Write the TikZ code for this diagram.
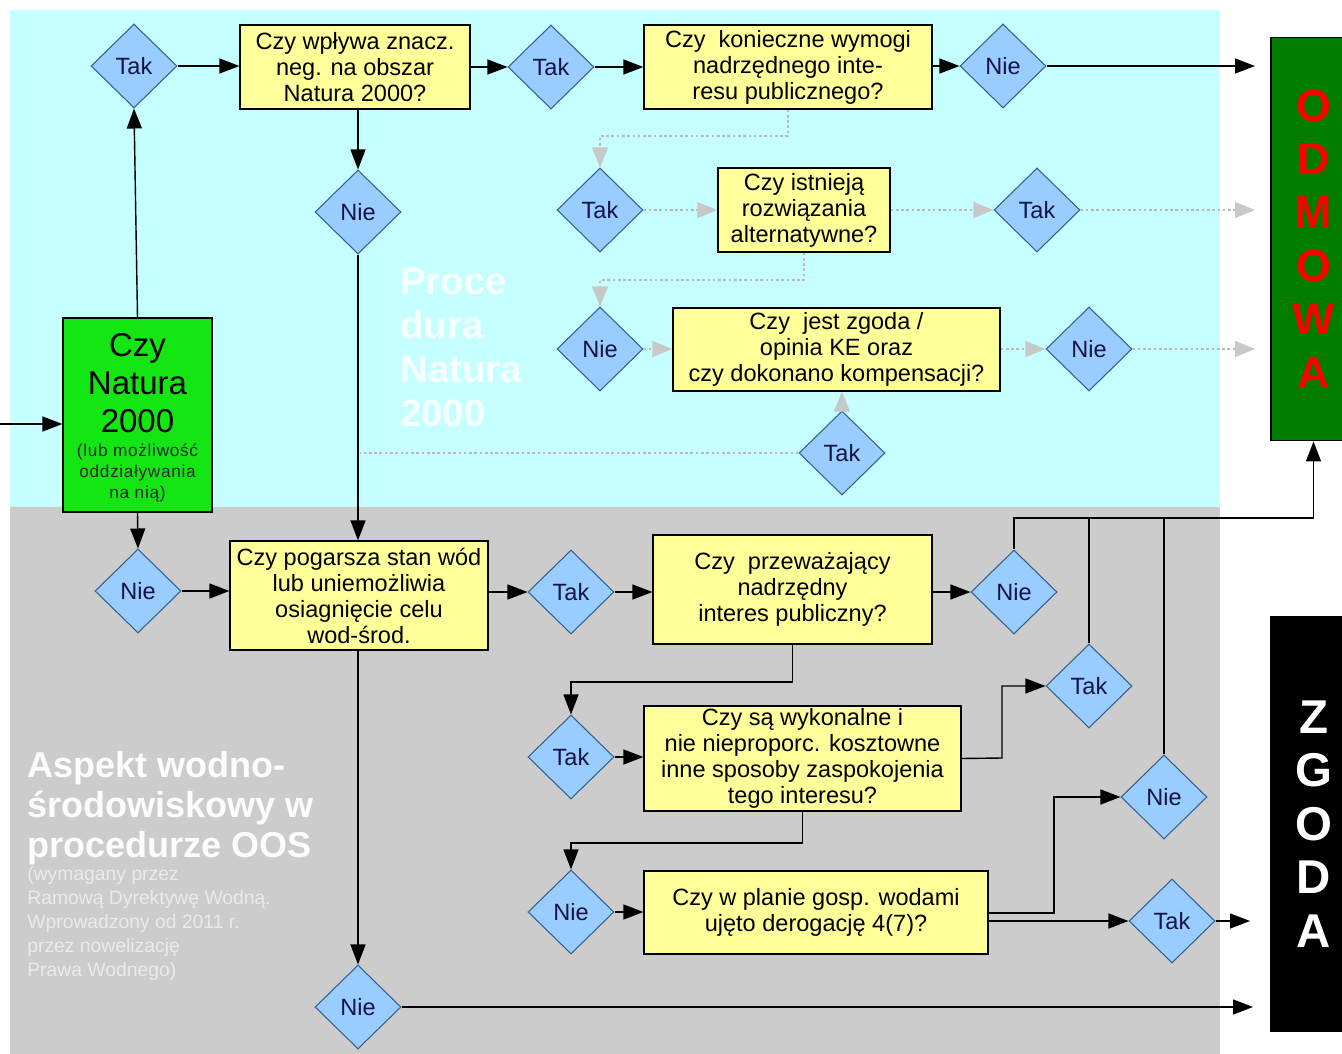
\documentclass[tikz,border=0pt]{standalone}
\usepackage{fontspec}
\setmainfont{Liberation Sans}
\usetikzlibrary{shapes.geometric,arrows.meta}
\definecolor{cyanbg}{RGB}{198,255,255}
\definecolor{graybg}{RGB}{204,204,204}
\definecolor{boxyel}{RGB}{255,255,153}
\definecolor{diafill}{RGB}{153,204,255}
\definecolor{diaedge}{RGB}{55,95,140}
\definecolor{diatext}{RGB}{20,20,70}
\definecolor{grn}{RGB}{20,230,20}
\definecolor{dgrn}{RGB}{0,125,0}
\definecolor{dashgray}{RGB}{185,185,185}
\definecolor{headgray}{RGB}{200,200,200}
\begin{document}
\begin{tikzpicture}[x=0.02cm,y=-0.02cm,
 dia/.style={diamond, draw=diaedge, fill=diafill, line width=0.6pt, minimum width=1.72cm, minimum height=1.68cm, inner sep=0pt, text=diatext, font=\fontsize{13.4}{15}\selectfont},
 qbox/.style={rectangle, draw=black, fill=boxyel, line width=0.7pt, align=center, inner sep=0pt, font=\fontsize{13.4}{14.8}\selectfont},
 arr/.style={line width=0.8pt, -{Triangle[length=0.4cm,width=0.3cm]}},
 ln/.style={line width=0.8pt},
 gln/.style={draw=dashgray, line width=0.6pt, dash pattern=on 1.5pt off 1.5pt},
 garr/.style={gln, -{Triangle[length=0.4cm,width=0.32cm,color=headgray,fill=headgray]}},
 bar/.style={rectangle, draw=black, line width=0.6pt, minimum width=1.7cm, inner sep=0pt, align=center, font=\bfseries\fontsize{25.5}{30.4}\selectfont}
]
\useasboundingbox (0,0) rectangle (1342,1054);
\clip (0,0) rectangle (1342,1054);
\fill[white] (0,0) rectangle (1342,1054);
% backgrounds
\fill[cyanbg] (10,10) rectangle (1220,507);
\fill[graybg] (10,507) rectangle (1220,1054);

% section titles
\node[anchor=north west, align=left, inner sep=0pt, text=white, text opacity=0.85,
  font=\bfseries\fontsize{21.8}{25}\selectfont] (t1) at (400,268) {Proce\\dura\\Natura\\2000};
\node[anchor=north west, align=left, inner sep=0pt, text=white, text opacity=0.95,
  font=\bfseries\fontsize{20.5}{22.8}\selectfont] (t2) at (27,751) {Aspekt wodno-\\środowiskowy w\\procedurze OOS};
\node[anchor=north west, align=left, inner sep=0pt, text=white, text opacity=0.6,
  font=\fontsize{11}{13.7}\selectfont] (t3) at (27,866) {(wymagany przez\\Ramową Dyrektywę Wodną.\\Wprowadzony od 2011 r.\\przez nowelizację\\Prawa Wodnego)};

% result bars
\node[bar, fill=dgrn, text=red, minimum height=8.08cm] (od) at (1313.5,239) {O\\D\\M\\O\\W\\A};
\node[bar, fill=black, text=white, minimum height=8.32cm, font=\bfseries\fontsize{27}{30.4}\selectfont] (zg) at (1313.5,824) {Z\\G\\O\\D\\A};

% green start box
\node[rectangle, draw=black, fill=grn, line width=0.7pt, minimum width=2.98cm, minimum height=3.88cm] (g) at (137.5,415) {};
\node[align=center, inner sep=0pt, font=\fontsize{18.8}{21.6}\selectfont] (gt) at (137.5,383) {Czy\\Natura\\2000};
\node[align=center, inner sep=0pt, text=black!85, font=\addfontfeatures{LetterSpace=4}\fontsize{9.8}{12}\selectfont] (gs) at (137.5,473) {(lub możliwość\\oddziaływania\\na nią)};

% question boxes
\node[qbox, minimum width=4.6cm, minimum height=1.68cm] (b1) at (355,67) {Czy wpływa znacz.\\neg. na obszar\\Natura 2000?};
\node[qbox, minimum width=5.76cm, minimum height=1.68cm] (b2) at (788,67) {Czy\ \ konieczne wymogi\\nadrzędnego inte-\\resu publicznego?};
\node[qbox, minimum width=3.44cm, minimum height=1.68cm] (b3) at (804,210) {Czy istnieją\\rozwiązania\\alternatywne?};
\node[qbox, minimum width=6.54cm, minimum height=1.66cm] (b4) at (836.5,349.5) {Czy\ \ jest zgoda /\\opinia KE oraz\\czy dokonano kompensacji?};
\node[qbox, minimum width=5.16cm, minimum height=2.18cm] (b5) at (359,595.5) {Czy pogarsza stan wód\\lub uniemożliwia\\osiagnięcie celu\\wod-środ.};
\node[qbox, minimum width=5.58cm, minimum height=2.18cm] (b6) at (792.5,589.5) {Czy\ \ przeważający\\nadrzędny\\interes publiczny?};
\node[qbox, minimum width=6.34cm, minimum height=2.1cm] (b7) at (802.5,758.5) {Czy są wykonalne i\\nie nieproporc. kosztowne\\inne sposoby zaspokojenia\\tego interesu?};
\node[qbox, minimum width=6.88cm, minimum height=1.66cm] (b8) at (816,912.5) {Czy w planie gosp. wodami\\ujęto derogację 4(7)?};

% decision diamonds
\node[dia] (d1) at (134,66) {Tak};
\node[dia] (d2) at (551,67) {Tak};
\node[dia] (d3) at (1003,66) {Nie};
\node[dia] (d4) at (358,212) {Nie};
\node[dia] (d5) at (600,210) {Tak};
\node[dia] (d6) at (1037,210) {Tak};
\node[dia] (d7) at (600,349) {Nie};
\node[dia] (d8) at (1089,349) {Nie};
\node[dia] (d9) at (842,453) {Tak};
\node[dia] (d10) at (138,591) {Nie};
\node[dia] (d11) at (571,592) {Tak};
\node[dia] (d12) at (1014,592) {Nie};
\node[dia] (d13) at (1089,686) {Tak};
\node[dia] (d14) at (571,757) {Tak};
\node[dia] (d15) at (1164,797) {Nie};
\node[dia] (d16) at (571,912) {Nie};
\node[dia] (d17) at (1172,921) {Tak};
\node[dia] (d18) at (358,1007) {Nie};

% free ends
\coordinate (in) at (0,424);
\coordinate (e1) at (1255,66);
\coordinate (e2) at (1255,210);
\coordinate (e3) at (1255,349);
\coordinate (e4) at (1250,921);
\coordinate (e5) at (1253,1007);
\coordinate (jn) at (360,453);

% black connectors
\draw[arr] (in) -- (g.west |- in);
\draw[arr] (g.north) -- (d1.south);
\draw[arr] (d1.east) -- (b1.west |- d1);
\draw[arr] (b1.east |- d2) -- (d2.west);
\draw[arr] (d2.east) -- (b2.west |- d2);
\draw[arr] (b2.east |- d3) -- (d3.west);
\draw[arr] (d3.east) -- (e1);
\draw[arr] (d4 |- b1.south) -- (d4.north);
\draw[arr] (d4.south) -- (d4 |- b5.north);
\draw[arr] (g.south) -- (d10.north);
\draw[arr] (d10.east) -- (b5.west |- d10);
\draw[arr] (b5.east |- d11) -- (d11.west);
\draw[arr] (d11.east) -- (b6.west |- d11);
\draw[arr] (b6.east |- d12) -- (d12.west);
\draw[arr] (d12.north) -- (d12.north |- 0,518) -| (od.south);
\draw[arr] (b6.south) -- (b6.south |- 0,682) -| (d14.north);
\draw[arr] (d14.east) -- (b7.west |- d14);
\draw[arr] (b7.east) -- (1002,758) |- (d13.west);
\draw[ln] (d13.north) -- (d13.north |- 0,518);
\draw[ln] (d15.north) -- (d15.north |- 0,518);
\draw[arr] (b7.south) -- (b7.south |- 0,843) -| (d16.north);
\draw[arr] (d16.east) -- (b8.west |- d16);
\draw[arr] (b8.east |- 0,913) -- (1054,913) |- (d15.west);
\draw[arr] (b8.east |- d17) -- (d17.west);
\draw[arr] (d17.east) -- (e4);
\draw[arr] (d4 |- b5.south) -- (d18.north);
\draw[arr] (d18.east) -- (e5);

% grey dashed connectors (derogation procedure)
\draw[garr] (b2.south) -- (b2.south |- 0,136) -| (d5.north);
\draw[garr] (d5.east) -- (b3.west |- d5);
\draw[garr] (b3.east |- d6) -- (d6.west);
\draw[garr] (d6.east) -- (e2);
\draw[garr] (b3.south) -- (b3.south |- 0,280) -| (d7.north);
\draw[garr] (d7.east) -- (b4.west |- d7);
\draw[garr] (b4.east |- d8) -- (d8.west);
\draw[garr] (d8.east) -- (e3);
\draw[garr] (d9.north) -- (d9 |- b4.south);
\draw[gln] (d9.west) -- (jn);
\end{tikzpicture}
\end{document}
